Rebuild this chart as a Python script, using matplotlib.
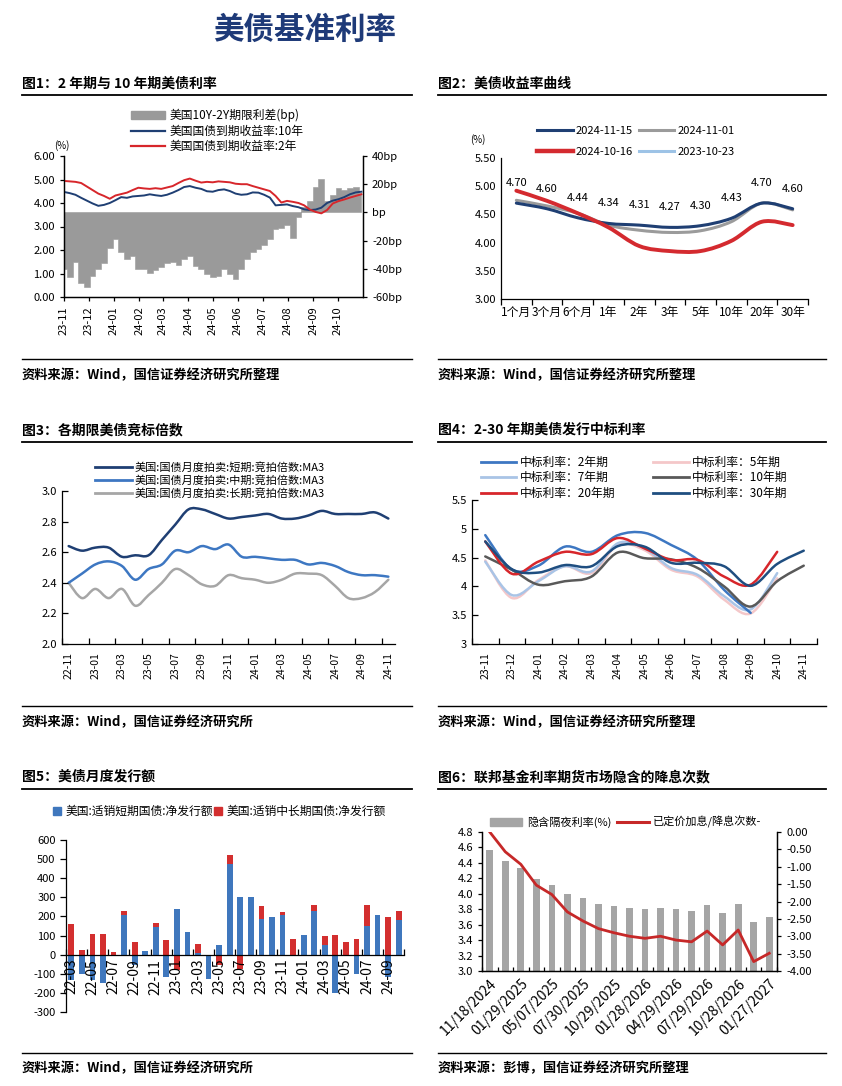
import numpy as np
import pandas as pd
import matplotlib
matplotlib.use('Agg')
import matplotlib.pyplot as plt
import matplotlib.ticker as mticker
from matplotlib.path import Path
from matplotlib.patches import PathPatch, Patch
from matplotlib.lines import Line2D

plt.rcParams['font.family'] = ['Noto Sans CJK SC', 'DejaVu Sans']
plt.rcParams['axes.unicode_minus'] = False

# ---------------- data ----------------
# 图1: weekly readings from 2023-11-01
p1_start = '2023-11-01'
p1_y10 = [4.47, 4.42, 4.35, 4.22, 4.10, 3.98, 3.88, 3.92, 4.00, 4.12, 4.25, 4.22, 4.28, 4.30,
          4.32, 4.37, 4.33, 4.30, 4.35, 4.44, 4.55, 4.68, 4.72, 4.65, 4.60, 4.50, 4.48, 4.55,
          4.58, 4.51, 4.40, 4.35, 4.37, 4.45, 4.44, 4.35, 4.23, 3.90, 3.92, 3.94, 3.87, 3.82,
          3.73, 3.70, 3.72, 3.80, 4.00, 4.10, 4.16, 4.25, 4.37, 4.45, 4.48]
p1_y2 = [4.94, 4.92, 4.90, 4.85, 4.70, 4.55, 4.40, 4.30, 4.18, 4.32, 4.38, 4.44, 4.55, 4.65,
         4.62, 4.60, 4.63, 4.60, 4.66, 4.72, 4.85, 4.97, 5.04, 4.95, 4.87, 4.90, 4.88, 4.92,
         4.90, 4.88, 4.82, 4.80, 4.80, 4.72, 4.65, 4.58, 4.51, 4.30, 4.02, 4.09, 4.05, 4.00,
         3.90, 3.72, 3.62, 3.56, 3.70, 3.98, 4.08, 4.15, 4.23, 4.30, 4.37]
p1_spread = [-40, -46, -35, -50, -53, -45, -40, -36, -25, -19, -28, -33, -31, -40, -40, -43,
             -41, -39, -36, -35, -37, -33, -31, -38, -40, -44, -46, -45, -40, -44, -47, -40,
             -33, -28, -26, -23, -19, -12, -11, -9, -18, -3, 4, 8, 18, 24, 8, 12, 17, 16, 17,
             18, 14]
p1_months = pd.date_range('2023-11-01', '2024-10-01', freq='MS')

# 图2
p2_tenors = ['1个月', '3个月', '6个月', '1年', '2年', '3年', '5年', '10年', '20年', '30年']
p2_1115 = [4.70, 4.60, 4.44, 4.34, 4.31, 4.27, 4.30, 4.43, 4.70, 4.60]
p2_1101 = [4.75, 4.65, 4.52, 4.31, 4.22, 4.18, 4.21, 4.37, 4.70, 4.58]
p2_1016 = [4.92, 4.74, 4.52, 4.27, 3.94, 3.85, 3.85, 4.03, 4.37, 4.31]
p2_231023 = []

# 图3
p3_months = ['22-11', '22-12', '23-01', '23-02', '23-03', '23-04', '23-05', '23-06', '23-07',
             '23-08', '23-09', '23-10', '23-11', '23-12', '24-01', '24-02', '24-03', '24-04',
             '24-05', '24-06', '24-07', '24-08', '24-09', '24-10', '24-11']
p3_short = [2.64, 2.61, 2.63, 2.63, 2.57, 2.58, 2.58, 2.68, 2.78, 2.88, 2.88, 2.85, 2.82,
            2.83, 2.84, 2.85, 2.82, 2.82, 2.84, 2.87, 2.85, 2.85, 2.85, 2.86, 2.82]
p3_mid = [2.40, 2.46, 2.52, 2.54, 2.51, 2.42, 2.49, 2.52, 2.61, 2.60, 2.64, 2.62, 2.65,
          2.57, 2.57, 2.56, 2.55, 2.55, 2.52, 2.53, 2.51, 2.47, 2.45, 2.45, 2.44]
p3_long = [2.40, 2.30, 2.36, 2.30, 2.36, 2.25, 2.32, 2.40, 2.49, 2.45, 2.39, 2.38, 2.45,
           2.43, 2.42, 2.40, 2.42, 2.46, 2.46, 2.45, 2.38, 2.30, 2.30, 2.34, 2.42]

# 图4
p4_months = ['23-11', '23-12', '24-01', '24-02', '24-03', '24-04', '24-05', '24-06', '24-07',
             '24-08', '24-09', '24-10', '24-11']
p4_2y = [4.89, 4.29, 4.36, 4.69, 4.60, 4.89, 4.93, 4.72, 4.46, 3.94, 3.54]
p4_5y = [4.45, 3.80, 4.11, 4.35, 4.23, 4.72, 4.63, 4.29, 4.17, 3.77, 3.53, 4.14]
p4_7y = [4.43, 3.85, 4.09, 4.35, 4.26, 4.75, 4.66, 4.32, 4.20, 3.83, 3.60, 4.23]
p4_10y = [4.52, 4.29, 4.03, 4.09, 4.17, 4.59, 4.49, 4.47, 4.32, 4.00, 3.65, 4.09, 4.36]
p4_20y = [4.78, 4.22, 4.43, 4.60, 4.56, 4.84, 4.66, 4.46, 4.46, 4.17, 4.03, 4.60]
p4_30y = [4.78, 4.30, 4.24, 4.37, 4.35, 4.70, 4.69, 4.41, 4.41, 4.35, 4.01, 4.39, 4.62]

# 图5
p5_months = ['22-03', '22-04', '22-05', '22-06', '22-07', '22-08', '22-09', '22-10', '22-11',
             '22-12', '23-01', '23-02', '23-03', '23-04', '23-05', '23-06', '23-07', '23-08',
             '23-09', '23-10', '23-11', '23-12', '24-01', '24-02', '24-03', '24-04', '24-05',
             '24-06', '24-07', '24-08', '24-09', '24-10']
p5_short = [-134, -100, -130, -148, -6, 205, -55, 19, 145, -117, 240, 118, 8, -125, 49, 472,
            301, 301, 186, 197, 206, 0, 105, 228, 52, -199, 0, -103, 150, 206, -117, 179]
p5_long = [158, 26, 108, 108, 12, 21, 66, 0, 22, 75, -80, 0, 46, 0, -55, 47, -73, 0, 67, 0,
           17, 80, -7, 30, 46, 101, 66, 80, 108, 0, 197, 47]

# 图6
p6_dates = ['11/18/2024', '12/18/2024', '01/29/2025', '03/19/2025', '05/07/2025', '06/18/2025',
            '07/30/2025', '09/17/2025', '10/29/2025', '12/10/2025', '01/28/2026', '03/18/2026',
            '04/29/2026', '06/17/2026', '07/29/2026', '09/16/2026', '10/28/2026', '12/09/2026',
            '01/27/2027']
p6_rate = [4.57, 4.43, 4.34, 4.19, 4.12, 4.00, 3.94, 3.87, 3.84, 3.82, 3.80, 3.82, 3.80, 3.78,
           3.86, 3.75, 3.87, 3.64, 3.70]
p6_cuts = [0.0, -0.57, -0.93, -1.53, -1.80, -2.30, -2.56, -2.78, -2.90, -3.00, -3.06, -3.00,
           -3.11, -3.16, -2.85, -3.25, -2.82, -3.73, -3.49]

# ---------------- colors ----------------
NAVY = '#1f3f73'
RED = '#d7262b'
GRAY = '#9b9b9b'
MBLUE = '#3d77c2'

W, H = 842, 1086
fig = plt.figure(figsize=(W / 100, H / 100), dpi=100)


def box(l, t, r, b):
    return fig.add_axes([l / W, 1 - b / H, (r - l) / W, (b - t) / H])


def ftext(x, y, s, **kw):
    fig.text(x / W, 1 - y / H, s, **kw)


def hline(x0, x1, y, lw):
    fig.add_artist(Line2D([x0 / W, x1 / W], [1 - y / H, 1 - y / H], color='black', lw=lw))


def smooth(ax, x, y, **kw):
    # smoothed line drawn as cubic bezier through the data points
    x = np.asarray(x, float)
    y = np.asarray(y, float)
    n = len(x)
    verts = [(x[0], y[0])]
    codes = [Path.MOVETO]
    for i in range(n - 1):
        a = i - 1 if i > 0 else i
        d = i + 2 if i + 2 < n else i + 1
        c1 = (x[i] + (x[i + 1] - x[a]) / 6, y[i] + (y[i + 1] - y[a]) / 6)
        c2 = (x[i + 1] - (x[d] - x[i]) / 6, y[i + 1] - (y[d] - y[i]) / 6)
        verts += [c1, c2, (x[i + 1], y[i + 1])]
        codes += [Path.CURVE4] * 3
    ax.add_patch(PathPatch(Path(verts, codes), fill=False, capstyle='round',
                           joinstyle='round', **kw))


def legend_at(ax, handles, labels, x, y, **kw):
    opts = dict(loc='upper left', bbox_to_anchor=(x / W, 1 - y / H),
                bbox_transform=fig.transFigure, frameon=False, borderpad=0,
                borderaxespad=0, fontsize=8.5)
    opts.update(kw)
    return ax.legend(handles, labels, **opts)


def style(ax):
    for s in ax.spines.values():
        s.set_color('black')
        s.set_linewidth(0.9)
    ax.tick_params(labelsize=8, colors='black', width=0.9)


# ---------------- title and frames ----------------
ftext(305, 30, '美债基准利率', fontsize=22, fontweight='bold', color='#1e3a78',
      ha='center', va='center')

frames = [
    (22, 412, 84, 95, 359, 375, '图1：2 年期与 10 年期美债利率', '资料来源：Wind，国信证券经济研究所整理'),
    (438, 826, 84, 95, 359, 375, '图2：美债收益率曲线', '资料来源：Wind，国信证券经济研究所整理'),
    (22, 412, 430, 442, 706, 722, '图3：各期限美债竞标倍数', '资料来源：Wind，国信证券经济研究所'),
    (438, 826, 430, 442, 706, 722, '图4：2-30 年期美债发行中标利率', '资料来源：Wind，国信证券经济研究所整理'),
    (22, 412, 777, 789, 1053, 1068, '图5：美债月度发行额', '资料来源：Wind，国信证券经济研究所'),
    (438, 826, 777, 789, 1053, 1068, '图6：联邦基金利率期货市场隐含的降息次数', '资料来源：彭博，国信证券经济研究所整理'),
]
for x0, x1, ty, ly, fy, sy, head, src in frames:
    ftext(x0, ty, head, fontsize=10, fontweight='bold', va='center')
    hline(x0, x1, ly, 1.3)
    hline(x0, x1, fy, 1.0)
    ftext(x0, sy, src, fontsize=9.5, fontweight='bold', va='center')

# ---------------- 图1 ----------------
ax1 = box(64, 156, 363, 297)
ax1r = ax1.twinx()
ax1.set_zorder(ax1r.get_zorder() + 1)
ax1.patch.set_visible(False)
d1 = pd.date_range(p1_start, periods=len(p1_y10), freq='7D')
ax1r.fill_between(d1, 0, p1_spread, step='mid', facecolor='#9a9a9a', edgecolor='#9a9a9a',
                  lw=0.4)
ax1.plot(d1, p1_y10, color=NAVY, lw=1.4)
ax1.plot(d1, p1_y2, color=RED, lw=1.4)
ax1.set_xlim(pd.Timestamp('2023-11-01'), pd.Timestamp('2024-11-01'))
ax1.set_ylim(0, 6)
ax1.set_yticks(np.arange(0, 6.01, 1))
ax1.yaxis.set_major_formatter(mticker.FormatStrFormatter('%.2f'))
ax1r.set_ylim(-60, 40)
ax1r.set_yticks([-60, -40, -20, 0, 20, 40])
ax1r.set_yticklabels(['-60bp', '-40bp', '-20bp', 'bp', '20bp', '40bp'])
ax1.set_xticks(p1_months)
ax1.set_xticklabels([d.strftime('%y-%m') for d in p1_months], rotation=90)
for a in (ax1, ax1r):
    style(a)
    a.spines['top'].set_visible(False)
ax1.tick_params(length=3)
ax1r.tick_params(length=3)
ftext(62, 146, '(%)', fontsize=7, ha='center', va='center')
legend_at(ax1, [Patch(color='#9a9a9a'), Line2D([], [], color=NAVY, lw=1.6),
                Line2D([], [], color=RED, lw=1.6)],
          ['美国10Y-2Y期限利差(bp)', '美国国债到期收益率:10年', '美国国债到期收益率:2年'],
          131, 109, handlelength=2.9, handletextpad=0.35, labelspacing=0.2)

# ---------------- 图2 ----------------
ax2 = box(501, 158, 808, 299)
x2 = np.arange(len(p2_tenors))
smooth(ax2, x2, p2_1101, edgecolor='#9b9b9b', lw=2.2)
smooth(ax2, x2, p2_1115, edgecolor=NAVY, lw=2.2)
smooth(ax2, x2, p2_1016, edgecolor='#d42a2f', lw=2.8)
if p2_231023:
    smooth(ax2, x2, p2_231023, edgecolor='#9dc3e6', lw=2.2)
for xi, v in zip(x2, p2_1115):
    ax2.annotate(f'{v:.2f}', (xi, v), xytext=(0, 14.5), textcoords='offset points',
                 ha='center', va='center', fontsize=8)
ax2.set_xlim(-0.5, len(p2_tenors) - 0.5)
ax2.set_ylim(3.0, 5.5)
ax2.set_yticks(np.arange(3.0, 5.51, 0.5))
ax2.yaxis.set_major_formatter(mticker.FormatStrFormatter('%.2f'))
ax2.set_xticks(np.arange(-0.5, len(p2_tenors), 1))
ax2.set_xticklabels([])
ax2.set_xticks(x2, minor=True)
ax2.set_xticklabels(p2_tenors, minor=True)
style(ax2)
ax2.tick_params(axis='x', which='minor', length=0, labelsize=8.5, pad=5)
ax2.tick_params(axis='x', which='major', length=4)
ax2.tick_params(axis='y', length=0)
ax2.spines['top'].set_visible(False)
ax2.spines['right'].set_visible(False)
ftext(478, 140, '(%)', fontsize=7, ha='center', va='center')
legend_at(ax2, [Line2D([], [], color=NAVY, lw=2.2), Line2D([], [], color='#d42a2f', lw=3.2),
                Line2D([], [], color='#9b9b9b', lw=2.2), Line2D([], [], color='#9dc3e6', lw=2.2)],
          ['2024-11-15', '2024-10-16', '2024-11-01', '2023-10-23'],
          537, 126, ncol=2, fontsize=8, handlelength=3.2, handletextpad=0.3,
          columnspacing=0.5, labelspacing=1.0)

# ---------------- 图3 ----------------
ax3 = box(62, 491, 395, 644)
x3 = np.arange(len(p3_months))
smooth(ax3, x3, p3_long, edgecolor='#a6a6a6', lw=1.8)
smooth(ax3, x3, p3_mid, edgecolor=MBLUE, lw=1.8)
smooth(ax3, x3, p3_short, edgecolor=NAVY, lw=1.8)
ax3.set_xlim(-0.5, len(p3_months) - 0.5)
ax3.set_ylim(2.0, 3.0)
ax3.set_yticks(np.arange(2.0, 3.01, 0.2))
ax3.yaxis.set_major_formatter(mticker.FormatStrFormatter('%.1f'))
ax3.set_xticks(np.arange(-0.5, len(p3_months), 2))
ax3.set_xticklabels([])
ax3.set_xticks(x3[::2], minor=True)
ax3.set_xticklabels(p3_months[::2], minor=True, rotation=90)
style(ax3)
ax3.tick_params(axis='x', which='minor', length=0, pad=6, labelsize=7.5)
ax3.tick_params(axis='x', which='major', direction='in', length=4)
ax3.tick_params(axis='y', direction='in', length=4)
ax3.spines['top'].set_visible(False)
ax3.spines['right'].set_visible(False)
legend_at(ax3, [Line2D([], [], color=NAVY, lw=2), Line2D([], [], color=MBLUE, lw=2),
                Line2D([], [], color='#a6a6a6', lw=2)],
          ['美国:国债月度拍卖:短期:竞拍倍数:MA3', '美国:国债月度拍卖:中期:竞拍倍数:MA3',
           '美国:国债月度拍卖:长期:竞拍倍数:MA3'],
          95, 462, fontsize=8, handlelength=3.3, handletextpad=0.3, labelspacing=0.2)

# ---------------- 图4 ----------------
ax4 = box(472, 500, 817, 644)
p4_series = [(p4_5y, '#f4c7c9'), (p4_7y, '#a9c4e6'), (p4_2y, MBLUE), (p4_10y, '#595959'),
             (p4_20y, RED), (p4_30y, '#1f4e80')]
for vals, col in p4_series:
    smooth(ax4, np.arange(len(vals)), vals, edgecolor=col, lw=1.8)
ax4.set_xlim(-0.5, len(p4_months) - 0.5)
ax4.set_ylim(3, 5.5)
ax4.set_yticks([3, 3.5, 4, 4.5, 5, 5.5])
ax4.set_yticklabels(['3', '3.5', '4', '4.5', '5', '5.5'])
ax4.set_xticks(np.arange(-0.5, len(p4_months), 1))
ax4.set_xticklabels([])
ax4.set_xticks(np.arange(len(p4_months)), minor=True)
ax4.set_xticklabels(p4_months, minor=True, rotation=90)
style(ax4)
ax4.tick_params(axis='x', which='minor', length=0, pad=6, labelsize=7.5)
ax4.tick_params(axis='x', which='major', direction='in', length=4)
ax4.tick_params(axis='y', direction='in', length=4)
ax4.spines['top'].set_visible(False)
ax4.spines['right'].set_visible(False)
legend_at(ax4, [Line2D([], [], color=MBLUE, lw=2), Line2D([], [], color='#a9c4e6', lw=2),
                Line2D([], [], color=RED, lw=2), Line2D([], [], color='#f4c7c9', lw=2),
                Line2D([], [], color='#595959', lw=2), Line2D([], [], color='#1f4e80', lw=2)],
          ['中标利率：2年期', '中标利率：7年期', '中标利率：20年期',
           '中标利率：5年期', '中标利率：10年期', '中标利率：30年期'],
          481, 456, ncol=2, handlelength=3.0, handletextpad=0.3, labelspacing=0.2,
          columnspacing=3.2)

# ---------------- 图5 ----------------
ax5 = box(66, 840, 404, 1012)
x5 = np.arange(len(p5_months))
short = np.array(p5_short, float)
long_ = np.array(p5_long, float)
bottom_long = np.where(np.sign(short) == np.sign(long_), short, 0)
ax5.bar(x5, short, width=0.55, color='#3f77bd', zorder=1)
ax5.bar(x5, long_, width=0.55, bottom=bottom_long, color='#d32f2f', zorder=1)
ax5.set_xlim(-0.5, len(p5_months) - 0.5)
ax5.set_ylim(-300, 600)
ax5.set_yticks(np.arange(-300, 601, 100))
ax5.spines['bottom'].set_position(('data', 0))
ax5.set_xticks(np.arange(-0.5, len(p5_months), 2))
ax5.set_xticklabels([])
ax5.set_xticks(x5[::2], minor=True)
ax5.set_xticklabels(p5_months[::2], minor=True, rotation=90, va='top')
style(ax5)
ax5.tick_params(axis='x', which='minor', length=0, pad=3)
ax5.tick_params(axis='x', which='major', direction='in', length=4)
ax5.tick_params(axis='y', length=4)
ax5.spines['top'].set_visible(False)
ax5.spines['right'].set_visible(False)
legend_at(ax5, [Patch(color='#3f77bd'), Patch(color='#d32f2f')],
          ['美国:适销短期国债:净发行额', '美国:适销中长期国债:净发行额'],
          53, 805, ncol=2, handlelength=0.7, handleheight=0.7, handletextpad=0.35,
          columnspacing=0.1)

# ---------------- 图6 ----------------
ax6 = box(482, 832, 777, 971)
ax6r = ax6.twinx()
x6 = np.arange(len(p6_dates))
ax6.bar(x6, p6_rate, width=0.43, color='#a5a5a5')
ax6r.plot(x6, p6_cuts, color='#c62828', lw=2.0)
ax6.set_xlim(-0.5, len(p6_dates) - 0.5)
ax6.set_ylim(3.0, 4.8)
ax6.set_yticks(np.arange(3.0, 4.81, 0.2))
ax6.yaxis.set_major_formatter(mticker.FormatStrFormatter('%.1f'))
ax6r.set_ylim(-4, 0)
ax6r.set_yticks(np.arange(-4, 0.01, 0.5))
ax6r.yaxis.set_major_formatter(mticker.FormatStrFormatter('%.2f'))
ax6.set_xticks(np.arange(-0.5, len(p6_dates), 1))
ax6.set_xticklabels([])
ax6.set_xticks(x6[::2], minor=True)
ax6.set_xticklabels(p6_dates[::2], minor=True, rotation=45, ha='right',
                    rotation_mode='anchor')
for a in (ax6, ax6r):
    style(a)
    a.spines['top'].set_visible(False)
ax6.tick_params(axis='x', which='minor', length=0, pad=4)
ax6.tick_params(axis='x', which='major', direction='in', length=3)
ax6.tick_params(axis='y', length=3)
ax6r.tick_params(axis='y', length=3)
legend_at(ax6r, [Patch(color='#a5a5a5'), Line2D([], [], color='#c62828', lw=2.2)],
          ['隐含隔夜利率(%)', '已定价加息/降息次数-'],
          490, 816, ncol=2, fontsize=8, handlelength=2.9, handletextpad=0.4,
          columnspacing=0.5)

fig.savefig('out.png', dpi=100)
